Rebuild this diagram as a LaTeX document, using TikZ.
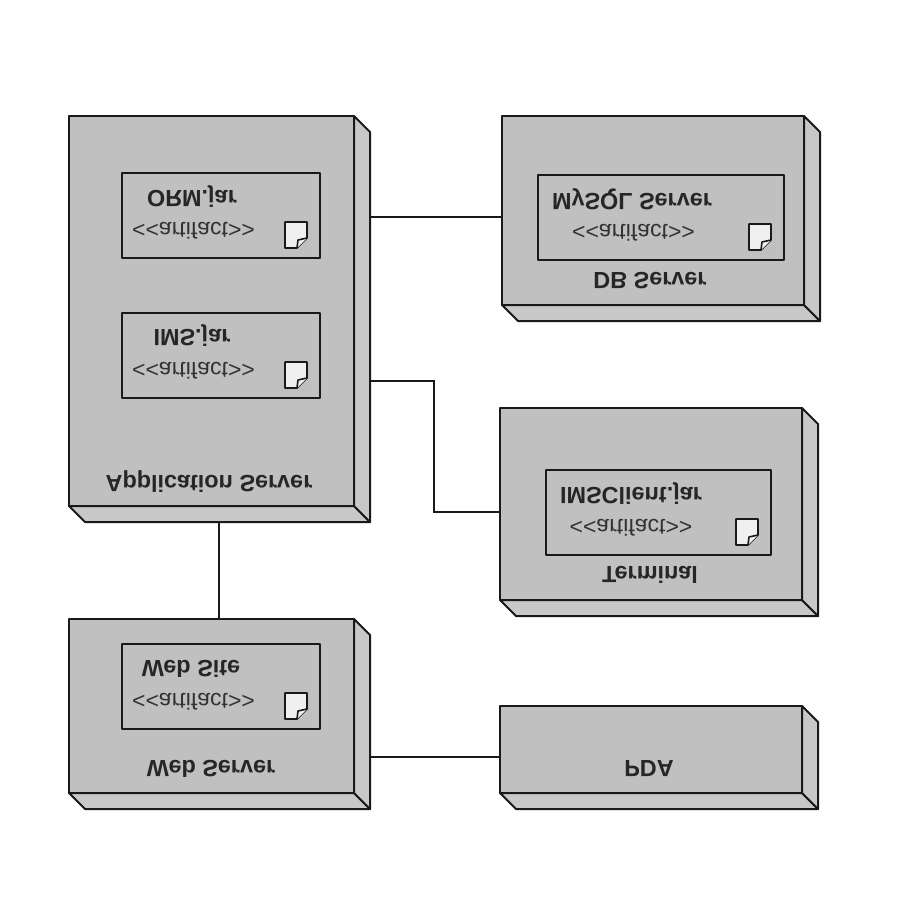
\documentclass[tikz,border=0pt]{standalone}
\usepackage{fontspec}
\setmainfont{Liberation Sans}
\newcommand{\flipv}[1]{\scalebox{1}[-1]{#1}}
\definecolor{frontgray}{HTML}{C0C0C0}
\definecolor{sidegray}{HTML}{C8C8C8}
\tikzset{
  edgeline/.style={draw=black!90,line width=2pt,line join=round},
  front/.style={edgeline,fill=frontgray},
  side/.style={edgeline,fill=sidegray},
  artbox/.style={edgeline,fill=frontgray,inner sep=0pt},
  conn/.style={draw=black!90,line width=2pt},
  namelbl/.style={inner sep=0pt,font=\fontsize{23.4}{24}\selectfont\bfseries,text=black!85},
  stereo/.style={inner sep=0pt,font=\fontsize{23}{24}\selectfont,text=black!80},
  icon/.style={draw=black!90,line width=1.6pt,fill=white!94!black,line join=round},
  outerbox/.style={inner sep=0pt,outer sep=0pt,draw=none},
}
% name, x1,y1 (front top-left), x2,y2 (front bottom-right)
\newcommand{\device}[5]{%
  \path[side] (#2,#5) -- (#2+16,#5+16) -- (#4+16,#5+16) -- (#4,#5) -- cycle;
  \path[side] (#4,#3) -- (#4+16,#3+16) -- (#4+16,#5+16) -- (#4,#5) -- cycle;
  \path[front] (#2,#3) rectangle (#4,#5);
  \node[outerbox,minimum width=#4pt-#2pt+16pt,minimum height=#5pt-#3pt+16pt] (#1) at ({(#2+#4+16)/2},{(#3+#5+16)/2}) {};
}
% name, x1,y1,x2,y2, name centre x,y, name
\newcommand{\artifact}[8]{%
  \node[artbox,minimum width=#4pt-#2pt,minimum height=#5pt-#3pt] (#1) at ({(#2+#4)/2},{(#3+#5)/2}) {};
  \node[namelbl] (#1name) at (#6,#7) {\flipv{#8}};
  \node[stereo] (#1st) at ({(#2+#4)/2-27.5},{#3+57.5}) {\flipv{<{}<artifact>{}>}};
  \path[icon] (#4-35,#3+49) -- (#4-13,#3+49) -- (#4-13,#3+65) -- (#4-23,#3+75) -- (#4-35,#3+75) -- cycle;
  \path[icon] (#4-13,#3+65) -- (#4-22,#3+67) -- (#4-23,#3+75);
}
\begin{document}
\begin{tikzpicture}[x=1pt,y=-1pt]
\useasboundingbox (0,0) rectangle (900,900);
\fill[white] (0,0) rectangle (900,900);
\device{app}{69}{116}{354}{506}
\device{db}{502}{116}{804}{305}
\device{term}{500}{408}{802}{600}
\device{web}{69}{619}{354}{793}
\device{pda}{500}{706}{802}{793}
\artifact{orm}{122}{173}{320}{258}{192}{197}{ORM.jar}
\artifact{ims}{122}{313}{320}{398}{192}{336}{IMS.jar}
\artifact{mysql}{538}{175}{784}{260}{632}{199}{MySQL Server}
\artifact{client}{546}{470}{771}{555}{631}{494}{IMSClient.jar}
\artifact{site}{122}{644}{320}{729}{191}{669}{Web Site}
\node[namelbl] (applbl) at (209,482) {\flipv{Application Server}};
\node[namelbl] (dblbl) at (650,281) {\flipv{DB Server}};
\node[namelbl] (termlbl) at (650,575) {\flipv{Terminal}};
\node[namelbl] (weblbl) at (211,769) {\flipv{Web Server}};
\node[namelbl] (pdalbl) at (649,769) {\flipv{PDA}};
\coordinate (dbport) at (db.west |- 0,217);
\coordinate (termbend) at (434,380.5);
\draw[conn] (app.east |- dbport) -- (dbport);
\draw[conn] (app.east |- termbend) -- (termbend) -- (termbend |- term.west) -- (term.west);
\draw[conn] ([xshift=-0.5pt]app.south) -- ([xshift=-0.5pt]web.north);
\draw[conn] ([yshift=0.5pt]web.east |- pda.west) -- ([yshift=0.5pt]pda.west);
\end{tikzpicture}
\end{document}
